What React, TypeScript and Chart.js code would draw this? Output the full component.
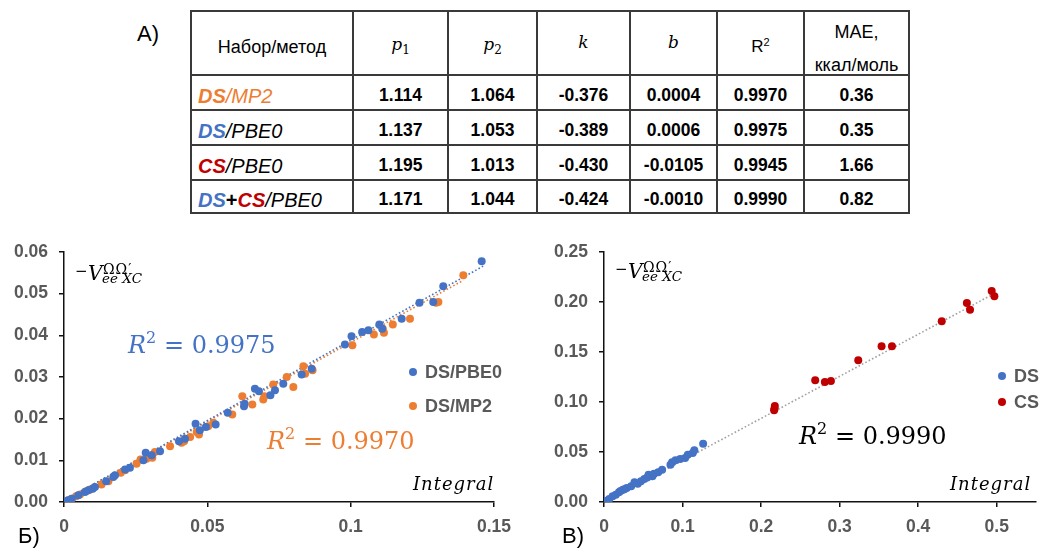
import React, { useEffect, useRef } from 'react';
import { Chart, registerables } from 'chart.js';
Chart.register(...registerables);

const BLUE = '#4472C4';
const ORANGE = '#ED7D31';
const RED = '#C00000';
const TICK_GRAY = '#595959';

// ---------- Table data ----------
const tableHeaderPlain = 'Набор/метод';
const tableP1 = ['1.114', '1.137', '1.195', '1.171'];
const tableP2 = ['1.064', '1.053', '1.013', '1.044'];
const tableK = ['-0.376', '-0.389', '-0.430', '-0.424'];
const tableB = ['0.0004', '0.0006', '-0.0105', '-0.0010'];
const tableR2 = ['0.9970', '0.9975', '0.9945', '0.9990'];
const tableMAE = ['0.36', '0.35', '1.66', '0.82'];
// method name segments: [text, color, bold]
const tableMethods: [string, string, boolean][][] = [
  [['DS', ORANGE, true], ['/MP2', ORANGE, false]],
  [['DS', BLUE, true], ['/PBE0', '#000', false]],
  [['CS', RED, true], ['/PBE0', '#000', false]],
  [['DS', BLUE, true], ['+', '#000', true], ['CS', RED, true], ['/PBE0', '#000', false]],
];

// ---------- Chart Б data ----------
const pbe0X = [0.0007, 0.0015, 0.0027, 0.005, 0.0073, 0.0085, 0.010, 0.0108, 0.0147, 0.0172, 0.0178, 0.0213, 0.023, 0.0277, 0.0285, 0.0306, 0.0335, 0.0401, 0.0422, 0.0459, 0.0474, 0.0495, 0.0529, 0.0571, 0.0628, 0.063, 0.0666, 0.068, 0.072, 0.0736, 0.0765, 0.0829, 0.0864, 0.098, 0.1003, 0.104, 0.1062, 0.110, 0.111, 0.1178, 0.124, 0.1288, 0.1323, 0.1457];
const pbe0Y = [0.0002, 0.0004, 0.0008, 0.0016, 0.0024, 0.0028, 0.0032, 0.0036, 0.005, 0.006, 0.0064, 0.0078, 0.0082, 0.010, 0.0118, 0.0112, 0.0122, 0.0146, 0.0152, 0.0188, 0.0172, 0.018, 0.0186, 0.0214, 0.023, 0.0236, 0.0272, 0.0266, 0.0256, 0.0268, 0.0284, 0.0306, 0.032, 0.0378, 0.0398, 0.0408, 0.0412, 0.0426, 0.0416, 0.044, 0.0478, 0.048, 0.0518, 0.0578];
const mp2X = [0.0009, 0.0015, 0.0027, 0.0042, 0.0056, 0.0077, 0.0091, 0.0131, 0.0155, 0.0198, 0.0213, 0.0253, 0.0267, 0.0288, 0.0308, 0.0317, 0.037, 0.041, 0.0419, 0.044, 0.0463, 0.0471, 0.0503, 0.0521, 0.0587, 0.0622, 0.0657, 0.0695, 0.0699, 0.073, 0.0777, 0.080, 0.0835, 0.0841, 0.0867, 0.1006, 0.1081, 0.1112, 0.1116, 0.1147, 0.1207, 0.1298, 0.1306, 0.1393];
const mp2Y = [0.0002, 0.0004, 0.0008, 0.0014, 0.0018, 0.0026, 0.003, 0.0042, 0.005, 0.007, 0.0076, 0.0092, 0.0102, 0.0104, 0.0106, 0.012, 0.0134, 0.0142, 0.0146, 0.0156, 0.0168, 0.0162, 0.0182, 0.019, 0.021, 0.0254, 0.0234, 0.0246, 0.0254, 0.0282, 0.030, 0.0276, 0.0326, 0.0308, 0.0316, 0.0376, 0.0402, 0.0416, 0.0406, 0.0426, 0.044, 0.0478, 0.048, 0.0544];
const pbe0TrendX = [0, 0.1462];
const pbe0TrendY = [0.0003, 0.0566];
const mp2TrendX = [0, 0.1393];
const mp2TrendY = [0.0003, 0.0532];
const bXTicks = [0, 0.05, 0.1, 0.15];
const bXLabels = ['0', '0.05', '0.1', '0.15'];
const bYTicks = [0, 0.01, 0.02, 0.03, 0.04, 0.05, 0.06];
const bYLabels = ['0.00', '0.01', '0.02', '0.03', '0.04', '0.05', '0.06'];

// ---------- Chart В data ----------
const dsX = [0.0017, 0.0033, 0.0067, 0.011, 0.015, 0.019, 0.021, 0.024, 0.026, 0.029, 0.0346, 0.0388, 0.043, 0.047, 0.0513, 0.055, 0.0567, 0.0617, 0.0637, 0.069, 0.074, 0.0846, 0.0867, 0.091, 0.097, 0.1033, 0.1067, 0.113, 0.115, 0.1262];
const dsY = [0.0007, 0.0013, 0.003, 0.0057, 0.0073, 0.0097, 0.011, 0.0123, 0.0128, 0.014, 0.0157, 0.0197, 0.0183, 0.0207, 0.023, 0.0245, 0.0273, 0.0257, 0.0283, 0.0297, 0.0323, 0.0373, 0.0397, 0.0417, 0.043, 0.044, 0.0473, 0.049, 0.0517, 0.0583];
const csX = [0.2166, 0.217, 0.2175, 0.2689, 0.2812, 0.2889, 0.3237, 0.3534, 0.3666, 0.430, 0.462, 0.466, 0.4936, 0.497];
const csY = [0.0917, 0.0933, 0.096, 0.1217, 0.120, 0.121, 0.1417, 0.1557, 0.1557, 0.1807, 0.199, 0.1923, 0.211, 0.2057];
const allTrendX = [0, 0.497];
const allTrendY = [-0.0005, 0.2085];
const vXTicks = [0, 0.1, 0.2, 0.3, 0.4, 0.5];
const vXLabels = ['0', '0.1', '0.2', '0.3', '0.4', '0.5'];
const vYTicks = [0, 0.05, 0.1, 0.15, 0.2, 0.25];
const vYLabels = ['0.00', '0.05', '0.10', '0.15', '0.20', '0.25'];

const pts = (xs: number[], ys: number[]) => xs.map((x, i) => ({ x, y: ys[i] }));
const scatterDs = (label: string, xs: number[], ys: number[], color: string) => ({
  label, data: pts(xs, ys), backgroundColor: color, borderColor: color,
  pointRadius: 4, pointBorderWidth: 0, showLine: false,
});
const trendDs = (xs: number[], ys: number[], color: string) => ({
  label: 'trend', data: pts(xs, ys), borderColor: color, backgroundColor: color,
  borderWidth: 1.6, borderDash: [1.6, 2.2], pointRadius: 0, showLine: true, fill: false,
});

const tickFont = { family: 'Liberation Sans, Arial, sans-serif', size: 17.5, weight: 'bold' as const };

function axis(min: number, max: number, ticks: number[], labels: string[], isY: boolean, size: number, pad: number) {
  return {
    type: 'linear', min, max,
    afterBuildTicks: (s: any) => { s.ticks = ticks.map((v) => ({ value: v })); },
    afterFit: (s: any) => {
      if (isY) s.width = size; else s.height = size;
      s.paddingTop = 0; s.paddingBottom = 0; s.paddingLeft = 0; s.paddingRight = 0;
    },
    ticks: { callback: (_v: any, i: number) => labels[i], font: tickFont, color: TICK_GRAY, padding: pad, autoSkip: false, maxRotation: 0 },
    grid: { drawOnChartArea: false, drawTicks: true, tickLength: 5, color: '#111', lineWidth: 1.5 },
    border: { display: true, color: '#111', width: 1.5 },
  };
}

type CP = {
  left: number; top: number; width: number; height: number; datasets: any[];
  area: { l: number; t: number; r: number; b: number };
  x: [number, number, number[], string[]]; y: [number, number, number[], string[]];
  yPad: number; xPad: number;
};

function ScatterChart(p: CP) {
  const ref = useRef<HTMLCanvasElement>(null);
  useEffect(() => {
    const chart = new Chart(ref.current as HTMLCanvasElement, {
      type: 'scatter',
      data: { datasets: p.datasets },
      options: {
        animation: false, responsive: false, events: [],
        layout: { padding: { left: 0, top: p.area.t, right: p.width - p.area.r, bottom: 0 } },
        plugins: { legend: { display: false }, tooltip: { enabled: false } },
        scales: {
          x: axis(p.x[0], p.x[1], p.x[2], p.x[3], false, p.height - p.area.b, p.xPad) as any,
          y: axis(p.y[0], p.y[1], p.y[2], p.y[3], true, p.area.l, p.yPad) as any,
        },
      },
    });
    return () => chart.destroy();
  }, []);
  return <canvas ref={ref} width={p.width} height={p.height} style={{ position: 'absolute', left: p.left, top: p.top, width: p.width, height: p.height }} />;
}

const colEdges = [191, 353, 448, 537, 630, 717, 804, 909];
const rowEdges = [11, 75, 110, 145, 180, 213];
const LINE = '#3a3a3a';

function Cell({ c, r, children, align = 'center', padL = 0, dy = 3 }: any) {
  return (
    <div style={{
      position: 'absolute', left: colEdges[c], top: rowEdges[r] + dy, width: colEdges[c + 1] - colEdges[c],
      height: rowEdges[r + 1] - rowEdges[r], display: 'flex', alignItems: 'center',
      justifyContent: align === 'left' ? 'flex-start' : 'center', paddingLeft: padL, boxSizing: 'border-box', whiteSpace: 'nowrap',
    }}>{children}</div>
  );
}

const mathF = 'DejaVu Serif, serif';
const sansF = 'Liberation Sans, Arial, sans-serif';

function MathSub({ base, sub }: { base: string; sub: string }) {
  return (
    <span style={{ fontFamily: mathF, fontSize: 17, lineHeight: '20px' }}>
      <span style={{ fontStyle: 'italic' }}>{base}</span>
      <span style={{ fontSize: 12, position: 'relative', top: 4 }}>{sub}</span>
    </span>
  );
}

function Table() {
  const valueCols = [tableP1, tableP2, tableK, tableB, tableR2, tableMAE];
  const x0 = colEdges[0], x1 = colEdges[colEdges.length - 1];
  const y0 = rowEdges[0], y1 = rowEdges[rowEdges.length - 1];
  return (
    <>
      {colEdges.map((x, i) => (
        <div key={'v' + i} style={{ position: 'absolute', left: x - 0.75, top: y0 - 0.75, width: 1.5, height: y1 - y0 + 1.5, background: LINE }} />
      ))}
      {rowEdges.map((y, i) => (
        <div key={'h' + i} style={{ position: 'absolute', left: x0 - 0.75, top: y - 0.75, width: x1 - x0 + 1.5, height: 1.5, background: LINE }} />
      ))}
      <Cell c={0} r={0} dy={4}><span style={{ fontFamily: sansF, fontSize: 18 }}>{tableHeaderPlain}</span></Cell>
      <Cell c={1} r={0} dy={2}><MathSub base="p" sub="1" /></Cell>
      <Cell c={2} r={0} dy={2}><MathSub base="p" sub="2" /></Cell>
      <Cell c={3} r={0} dy={-1}><span style={{ fontFamily: mathF, fontSize: 17, fontStyle: 'italic' }}>k</span></Cell>
      <Cell c={4} r={0} dy={-1}><span style={{ fontFamily: mathF, fontSize: 17, fontStyle: 'italic' }}>b</span></Cell>
      <Cell c={5} r={0} dy={4}>
        <span style={{ fontFamily: sansF, fontSize: 17 }}>R<span style={{ fontSize: 11, position: 'relative', top: -6 }}>2</span></span>
      </Cell>
      <div style={{ position: 'absolute', left: colEdges[6], width: colEdges[7] - colEdges[6], top: 22, textAlign: 'center', fontFamily: sansF, fontSize: 18, lineHeight: '20px' }}>MAE,</div>
      <div style={{ position: 'absolute', left: colEdges[6], width: colEdges[7] - colEdges[6], top: 55, textAlign: 'center', fontFamily: sansF, fontSize: 18, lineHeight: '20px' }}>ккал/моль</div>
      {tableMethods.map((segs, r) => (
        <Cell key={'m' + r} c={0} r={r + 1} align="left" padL={7} dy={4}>
          <span style={{ fontFamily: sansF, fontSize: 20, fontStyle: 'italic' }}>
            {segs.map(([t, col, bold], k) => (
              <span key={k} style={{ color: col, fontWeight: bold ? 'bold' : 'normal', fontStyle: t === '+' ? 'normal' : 'italic' }}>{t}</span>
            ))}
          </span>
        </Cell>
      ))}
      {valueCols.map((col, ci) => col.map((v, r) => (
        <Cell key={ci + '-' + r} c={ci + 1} r={r + 1} dy={3}>
          <span style={{ fontFamily: sansF, fontSize: 17.5, fontWeight: 'bold' }}>{v}</span>
        </Cell>
      )))}
    </>
  );
}

function R2Label({ left, top, color, value }: any) {
  return (
    <div style={{ position: 'absolute', left, top, color, fontFamily: mathF, fontSize: 24, lineHeight: '24px', whiteSpace: 'nowrap' }}>
      <span style={{ fontStyle: 'italic' }}>R</span>
      <span style={{ fontSize: 16, position: 'relative', top: -10 }}>2</span>
      {' = '}{value}
    </div>
  );
}

function YTitle({ left, top }: any) {
  const base: any = { position: 'absolute', fontFamily: mathF, color: '#000', whiteSpace: 'nowrap' };
  return (
    <div style={{ position: 'absolute', left, top }}>
      <span style={{ ...base, left: 0, top: 2, fontSize: 15, lineHeight: '15px' }}>−</span>
      <span style={{ ...base, left: 13, top: 1, fontSize: 20, lineHeight: '20px', fontStyle: 'italic' }}>V</span>
      <span style={{ ...base, left: 28, top: -0.5, fontSize: 14, lineHeight: '14px', letterSpacing: 1 }}>ΩΩ′</span>
      <span style={{ ...base, left: 27, top: 9.5, fontSize: 13.5, lineHeight: '13px', fontStyle: 'italic' }}>ee XC</span>
    </div>
  );
}

function XTitle({ left, top }: any) {
  return (
    <div style={{ position: 'absolute', left, top, fontFamily: mathF, fontStyle: 'italic', fontSize: 18, lineHeight: '18px', letterSpacing: 1, whiteSpace: 'nowrap' }}>Integral</div>
  );
}

function LegendItem({ x, y, color, text }: any) {
  return (
    <>
      <div style={{ position: 'absolute', left: x - 4, top: y - 4, width: 8, height: 8, borderRadius: 4, background: color }} />
      <div style={{ position: 'absolute', left: x + 12, top: y - 9, fontFamily: sansF, fontWeight: 'bold', fontSize: 18, lineHeight: '18px', color: TICK_GRAY, whiteSpace: 'nowrap' }}>{text}</div>
    </>
  );
}

function PanelLabel({ left, top, text }: any) {
  return <div style={{ position: 'absolute', left, top, fontFamily: sansF, fontSize: 22, lineHeight: '22px' }}>{text}</div>;
}

export default function App() {
  const bDatasets = [
    scatterDs('DS/PBE0', pbe0X, pbe0Y, BLUE),
    scatterDs('DS/MP2', mp2X, mp2Y, ORANGE),
    trendDs(pbe0TrendX, pbe0TrendY, BLUE),
    trendDs(mp2TrendX, mp2TrendY, ORANGE),
  ];
  const vDatasets = [
    scatterDs('DS', dsX, dsY, BLUE),
    scatterDs('CS', csX, csY, RED),
    trendDs(allTrendX, allTrendY, '#a0a0a0'),
  ];
  return (
    <div style={{ position: 'absolute', left: 0, top: 0, width: 1049, height: 550, background: '#fff', overflow: 'hidden', color: '#000' }}>
      <PanelLabel left={137} top={23} text="A)" />
      <Table />
      <ScatterChart left={0} top={240} width={530} height={310} datasets={bDatasets}
        area={{ l: 64, t: 12, r: 494, b: 262 }} x={[0, 0.15, bXTicks, bXLabels]} y={[0, 0.06, bYTicks, bYLabels]} yPad={11} xPad={10} />
      <ScatterChart left={540} top={240} width={509} height={310} datasets={vDatasets}
        area={{ l: 64, t: 12, r: 496, b: 262 }} x={[0, 0.55, vXTicks, vXLabels]} y={[0, 0.25, vYTicks, vYLabels]} yPad={11} xPad={10} />
      <YTitle left={75} top={262} />
      <YTitle left={615} top={260} />
      <XTitle left={413} top={475} />
      <XTitle left={950} top={475} />
      <R2Label left={128} top={333} color={BLUE} value={tableR2[1]} />
      <R2Label left={267} top={429} color={ORANGE} value={tableR2[0]} />
      <R2Label left={799} top={424} color="#000" value={tableR2[3]} />
      <LegendItem x={413} y={372} color={BLUE} text="DS/PBE0" />
      <LegendItem x={413} y={406} color={ORANGE} text="DS/MP2" />
      <LegendItem x={1002} y={376} color={BLUE} text="DS" />
      <LegendItem x={1002} y={402} color={RED} text="CS" />
      <PanelLabel left={18} top={525} text="Б)" />
      <PanelLabel left={562} top={525} text="В)" />
    </div>
  );
}
